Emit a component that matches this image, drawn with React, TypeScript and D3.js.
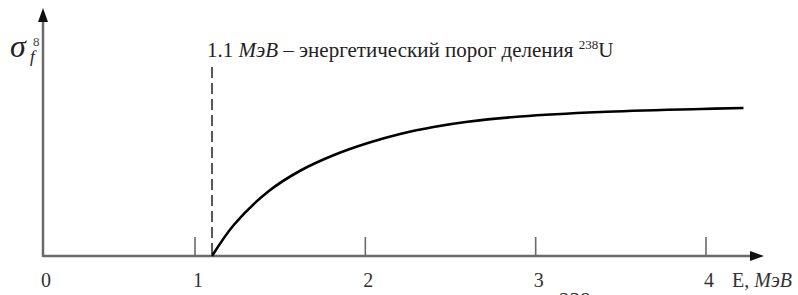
import React from 'react';
import * as d3 from 'd3';

// energy axis ticks (MeV)
const tickValues = [1, 2, 3, 4];
const tickLabels = ['0', '1', '2', '3', '4'];
const labelValues = [0, 1, 2, 3, 4];

// fission cross-section curve of U-238 (relative units)
const energy = [1.1, 1.23, 1.43, 1.62, 1.82, 2.02, 2.21, 2.4, 2.6, 2.91, 3.38, 3.97, 4.22];
const sigma = [0, 0.21, 0.43, 0.57, 0.675, 0.755, 0.815, 0.86, 0.895, 0.93, 0.96, 0.98, 0.987];

const threshold = 1.1;

const W = 798;
const H = 295;
const serif = '"Liberation Serif", "Times New Roman", serif';

const App = () => {
    // the picture is schematic: the origin sits closer than one unit to tick "1"
    const x = d3.scaleLinear().domain([0, 1, 4]).range([43, 195, 706]);
    const y = d3.scaleLinear().domain([0, 1]).range([256, 106]);

    const line = d3.line<number>()
        .x((d, i) => x(energy[i]))
        .y((d) => y(d))
        .curve(d3.curveCatmullRom.alpha(0.5));

    const axisColor = '#6a6a6a';
    const x0 = x(0);
    const y0 = y(0);
    const xEnd = 764;
    const yTop = 8;

    return (
        <svg width={W} height={H} style={{ position: 'absolute', left: 0, top: 0, background: '#fff', fontFamily: serif }}>
            {/* axes */}
            <line x1={x0} y1={y0} x2={xEnd - 10} y2={y0} stroke={axisColor} strokeWidth={2.5} />
            <path d={`M${xEnd},${y0} L${xEnd - 14},${y0 - 5} L${xEnd - 14},${y0 + 5} Z`} fill="#111" />
            <line x1={x0} y1={y0 + 1} x2={x0} y2={yTop + 10} stroke={axisColor} strokeWidth={2.5} />
            <path d={`M${x0},${yTop} L${x0 - 5},${yTop + 14} L${x0 + 5},${yTop + 14} Z`} fill="#111" />

            {tickValues.map((t) => (
                <line key={t} x1={x(t)} x2={x(t)} y1={y0} y2={y0 - 19} stroke={axisColor} strokeWidth={1.6} />
            ))}
            {labelValues.map((v, i) => (
                <text key={v} x={x(v) + 3} y={287} fontSize={20} fill="#333" textAnchor="middle">
                    {tickLabels[i]}
                </text>
            ))}
            <text x={732} y={287} fontSize={20} fill="#333">
                E, <tspan fontStyle="italic">МэВ</tspan>
            </text>

            {/* y label */}
            <text x={10} y={57} fontSize={32} fontStyle="italic" fill="#222">σ</text>
            <text x={30} y={62} fontSize={17} fontStyle="italic" fill="#222">f</text>
            <text x={33} y={46} fontSize={13} fill="#444">8</text>

            {/* threshold */}
            <line x1={x(threshold)} x2={x(threshold)} y1={67} y2={y0} stroke="#555" strokeWidth={2} strokeDasharray="11,5" />
            <text x={207} y={57} fontSize={21} fill="#222">
                1.1 <tspan fontStyle="italic">МэВ</tspan> – энергетический порог деления{' '}
                <tspan fontSize={13} dy={-8}>238</tspan><tspan dy={8}>U</tspan>
            </text>

            {/* cross-section curve */}
            <path d={line(sigma) || ''} fill="none" stroke="#000" strokeWidth={2.6} />

            {/* caption below, cut off by the frame as in the picture */}
            <text x={559} y={307} fontSize={21} fill="#333">238</text>
        </svg>
    );
};

export default App;
